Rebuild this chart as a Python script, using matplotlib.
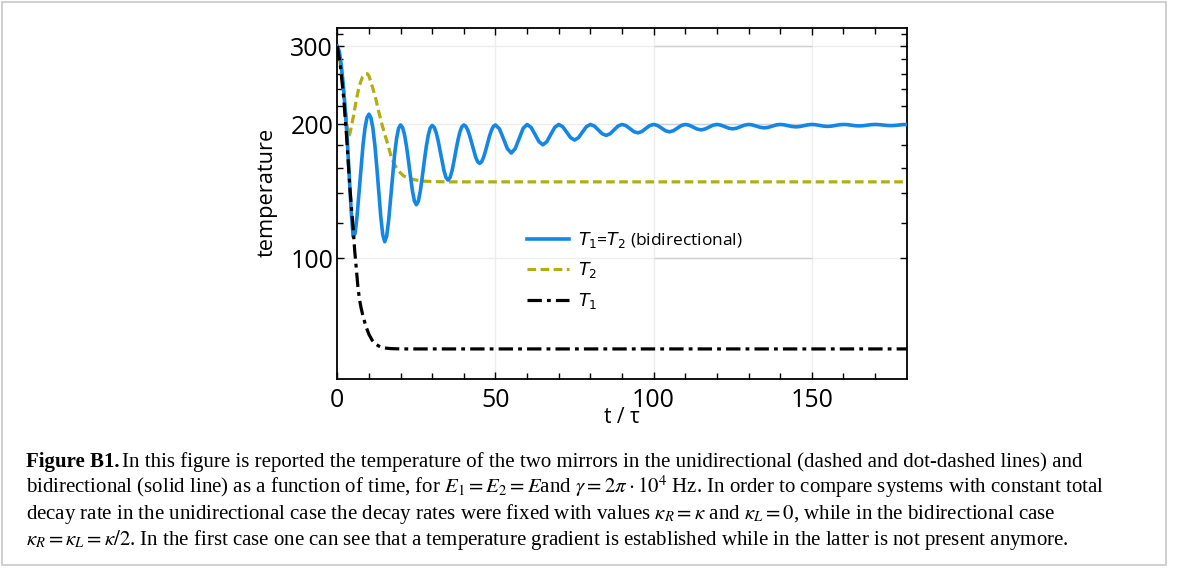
import numpy as np
import matplotlib
matplotlib.use("Agg")
import matplotlib.pyplot as plt
from matplotlib.ticker import NullFormatter
from matplotlib.patches import Rectangle

# datos (tramo inicial mas denso)
t_bidir = np.concatenate([np.arange(0, 50, 0.625), np.arange(50, 180.01, 1.25)])
T_bidir = [300, 292, 272, 246, 216, 186, 155, 128,
           112, 113.8, 124.7, 141.2, 160.5, 179.8, 196.3, 207.2,
           211, 207.1, 196.1, 179.5, 160, 140.5, 123.9, 112.9,
           109, 112.4, 122.2, 137, 154.3, 171.5, 186.3, 196.1,
           199.5, 196.9, 189.6, 178.6, 165.8, 152.9, 141.9, 134.6,
           132, 134.5, 141.8, 152.7, 165.5, 178.3, 189.2, 196.5,
           199, 197.1, 191.8, 183.9, 174.5, 165.1, 157.2, 151.9,
           150, 151.9, 157.2, 165.3, 174.8, 184.2, 192.3, 197.6,
           199.5, 198.1, 194.2, 188.4, 181.5, 174.6, 168.8, 164.9,
           163.5, 164.9, 168.8, 174.6, 181.5, 188.4, 194.2, 198.1,
           199.5,
           195.5, 186, 176.5, 172.5,
           176.5, 186, 196, 200,
           197, 190, 183, 180,
           183, 190, 197, 200,
           197.7, 192.3, 186.8, 184.5,
           186.8, 192.3, 197.7, 200,
           198.4, 194.5, 190.6, 189,
           190.6, 194.5, 198.4, 200,
           198.8, 195.8, 192.7, 191.5,
           192.7, 195.8, 198.8, 200,
           198.9, 196.3, 193.6, 192.5,
           193.6, 196.3, 198.9, 200,
           199.2, 197.3, 195.3, 194.5,
           195.3, 197.3, 199.2, 200,
           199.3, 197.8, 196.2, 195.5,
           196.2, 197.8, 199.3, 200,
           199.5, 198.3, 197, 196.5,
           197, 198.3, 199.5, 200,
           199.6, 198.8, 197.9, 197.5,
           197.9, 198.8, 199.6, 200,
           199.7, 199, 198.3, 198,
           198.3, 199, 199.7, 200,
           199.8, 199.3, 198.7, 198.5,
           198.7, 199.3, 199.8, 200,
           199.8, 199.4, 199, 198.8,
           199, 199.4, 199.8, 200]

t_T2 = [0, 1, 2, 3, 3.5, 4, 5, 6, 7, 8, 9, 9.5, 10, 11, 12, 13, 14, 15, 16, 17,
        18, 19, 20, 21, 22, 23, 25, 27, 30, 35, 180]
T2 = [300, 272, 236, 200, 188, 191, 207, 227, 245, 256, 260, 260, 257, 244, 231,
      215, 201.5, 190, 180, 169.5, 163, 158.5, 155.5, 153.2, 152, 151, 150, 149.2,
      148.8, 148.6, 148.6]

t_T1 = [0, 1, 2, 3, 4, 5, 5.5, 6, 6.5, 7, 7.5, 8, 9, 10, 11, 12, 13, 14, 15, 17,
        20, 30, 180]
T1 = [300, 270, 230, 185, 143, 117, 104, 95, 86.5, 81, 77.5, 74.8, 70.5, 67.5,
      65.5, 64.3, 63.6, 63.1, 62.9, 62.7, 62.6, 62.6, 62.6]

y_major = [100, 200, 300]
y_minor = [120, 140, 160, 180, 220, 240, 260, 280, 320]
x_major = [0, 50, 100, 150]
x_minor = [10, 20, 30, 40, 60, 70, 80, 90, 110, 120, 130, 140, 160, 170]

caption = [
    "In this figure is reported the temperature of the two mirrors in the unidirectional (dashed and dot-dashed lines) and",
    r"bidirectional (solid line) as a function of time, for $E_1 = E_2 = E$and $\gamma = 2\pi \cdot 10^4$ Hz. In order to compare systems with constant total",
    r"decay rate in the unidirectional case the decay rates were fixed with values $\kappa_R = \kappa$ and $\kappa_L = 0$, while in the bidirectional case",
    r"$\kappa_R = \kappa_L = \kappa/2$. In the first case one can see that a temperature gradient is established while in the latter is not present anymore.",
]

azul = "#1487e6"
amarillo = "#b2ad12"

plt.rcParams["font.family"] = ["Open Sans", "DejaVu Sans"]
plt.rcParams["mathtext.fontset"] = "dejavusans"

fig = plt.figure(figsize=(11.79, 5.78), dpi=100)
ax = fig.add_axes([0.2861, 0.3438, 0.4829, 0.6083])

# rejilla
for v in y_major:
    ax.axhline(v, color="#ededed", lw=1, zorder=0)
for v in x_major[1:]:
    ax.axvline(v, color="#ededed", lw=1, zorder=0)
ax.hlines(y_major, 100, 150, color="#d0d0d0", lw=1, zorder=0)

ax.plot(t_bidir, T_bidir, color=azul, lw=2.6, solid_joinstyle="round",
        label=r"$T_1$=$T_2$ (bidirectional)", zorder=3)
ax.plot(t_T2, T2, color=amarillo, lw=2.3, dashes=(2.7, 1.4),
        label=r"$T_2$", zorder=2)
ax.plot(t_T1, T1, color="black", lw=2.3, dashes=(4.5, 1.6, 1.2, 1.6),
        label=r"$T_1$", zorder=4)

ax.set_yscale("log")
ax.set_xlim(0, 180)
ax.set_ylim(53.5, 330)
ax.set_yticks(y_major)
ax.set_yticklabels([str(v) for v in y_major])
ax.set_yticks(y_minor, minor=True)
ax.yaxis.set_minor_formatter(NullFormatter())
ax.set_xticks(x_major)
ax.set_xticks(x_minor, minor=True)

ax.tick_params(which="both", direction="in", top=True, right=True,
               labelsize=18, colors="black")
ax.tick_params(axis="x", pad=6)
ax.tick_params(axis="y", pad=3)
ax.tick_params(which="major", length=5, width=1)
ax.tick_params(which="minor", length=4, width=1)
for sp in ax.spines.values():
    sp.set_linewidth(1.3)

ax.set_ylabel("temperature", fontsize=15.7)
ax.yaxis.set_label_coords(-0.105, 0.533)
ax.set_xlabel("t / τ", fontsize=15)
ax.xaxis.set_label_coords(0.5, -0.08)

leg = ax.legend(loc="upper left", bbox_to_anchor=(0.318, 0.45), frameon=False,
                fontsize=12.5, handlelength=2.4, handletextpad=0.55,
                labelspacing=0.6, borderpad=0)

# pie de figura
serif = ["Liberation Serif", "DejaVu Serif"]
fs = 15
y0 = 1 - 467 / 578
dy = 26 / 578
b = fig.text(0.022, y0, "Figure B1.", fontsize=fs, fontweight="bold",
             family=serif, va="baseline")
fig.canvas.draw()
r = fig.canvas.get_renderer()
bb = b.get_window_extent(r)
x_rest = (bb.x1 + 3) / fig.bbox.width
fig.text(x_rest, y0, caption[0], fontsize=fs, family=serif, va="baseline",
         math_fontfamily="stix")
for i, line in enumerate(caption[1:]):
    fig.text(0.022, y0 - (i + 1) * dy, line, fontsize=fs, family=serif,
             va="baseline", math_fontfamily="stix")

fig.patches.append(Rectangle((0.002, 0.022), 0.987, 0.975, transform=fig.transFigure,
                             fill=False, edgecolor="#c8c8c8", lw=1.2))

fig.savefig("out.png", dpi=100)
